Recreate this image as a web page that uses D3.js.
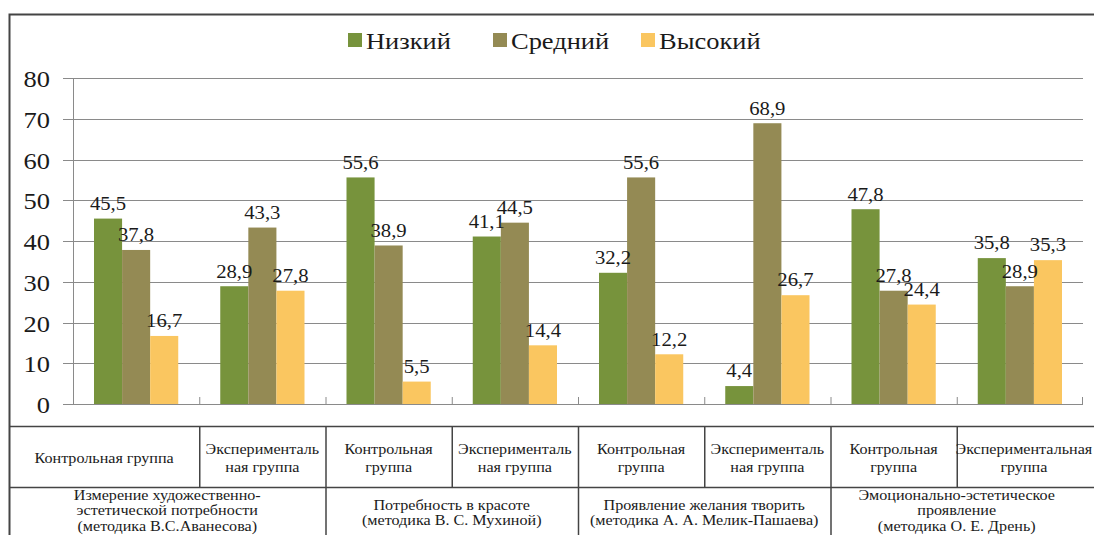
<!DOCTYPE html>
<html>
<head>
<meta charset="utf-8">
<script src="https://cdn.jsdelivr.net/npm/d3@7"></script>
<style>
  svg text { font-family: "Liberation Serif", serif !important; }
</style>
</head>
<body style="margin:0">
<svg id="chart" width="1094" height="535" font-family="Liberation Serif"></svg>
<script>
// values
var series = ["Низкий", "Средний", "Высокий"];
var colors = ["#77933c", "#948a54", "#fac660"];
var lowVals = [45.5, 28.9, 55.6, 41.1, 32.2, 4.4, 47.8, 35.8];
var midVals = [37.8, 43.3, 38.9, 44.5, 55.6, 68.9, 27.8, 28.9];
var highVals = [16.7, 27.8, 5.5, 14.4, 12.2, 26.7, 24.4, 35.3];
var yTicks = [0, 10, 20, 30, 40, 50, 60, 70, 80];

// table under the chart
var groupLabels = [
	["Контрольная  группа"],
	["Эксперименталь", "ная  группа"],
	["Контрольная", "группа"],
	["Эксперименталь", "ная  группа"],
	["Контрольная", "группа"],
	["Эксперименталь", "ная  группа"],
	["Контрольная", "группа"],
	["Экспериментальная", "группа"]
];
var methodLabels = [
	["Измерение художественно-", "эстетической потребности", "(методика В.С.Аванесова)"],
	["Потребность  в красоте", "(методика  В.  С. Мухиной)"],
	["Проявление  желания творить", "(методика А. А. Мелик-Пашаева)"],
	["Эмоционально-эстетическое", "проявление", "(методика О. Е. Дрень)"]
];

var allVals = [lowVals, midVals, highVals];
var sx = 1.15; // the picture is a bit stretched sideways

var svg = d3.select("#chart");

// adds a text, then widens it like the source picture
function stretchText(g, x, y, str, size, anchor) {
	var t = g.append("text")
		.attr("x", x)
		.attr("y", y)
		.attr("dy", "0.35em")
		.attr("text-anchor", anchor || "middle")
		.attr("font-family", "Liberation Serif")
		.style("font-family", "Liberation Serif", "important")
		.attr("font-size", size)
		.attr("fill", "#1a1a1a")
		.text(str);
	var w = t.node().getComputedTextLength();
	t.attr("textLength", w * sx).attr("lengthAdjust", "spacingAndGlyphs");
	return t;
}

var plotL = 73, plotR = 1083, plotT = 78, plotB = 404;

var x0 = d3.scaleBand()
	.domain(d3.range(lowVals.length))
	.range([plotL, plotR]);
var x1 = d3.scaleBand()
	.domain(d3.range(series.length))
	.range([21, x0.bandwidth() - 21]);
var y = d3.scaleLinear()
	.domain([0, 80])
	.range([plotB, plotT]);

// outer frame
svg.append("rect")
	.attr("x", 9.5).attr("y", 14.5)
	.attr("width", 1100).attr("height", 600)
	.attr("fill", "none")
	.attr("stroke", "#444")
	.attr("stroke-width", 2);

// gridlines
svg.append("g")
	.selectAll("line")
	.data(yTicks)
	.join("line")
	.attr("x1", plotL - 10).attr("x2", plotR)
	.attr("y1", function(d) { return Math.round(y(d)) + 0.5; })
	.attr("y2", function(d) { return Math.round(y(d)) + 0.5; })
	.attr("stroke", "#8a8a8a")
	.attr("stroke-width", 1);

// y axis line
svg.append("line")
	.attr("x1", plotL + 0.5).attr("x2", plotL + 0.5)
	.attr("y1", y(80)).attr("y2", y(0))
	.attr("stroke", "#8a8a8a");

// inner tick marks between the groups
svg.append("g")
	.selectAll("line")
	.data(d3.range(1, lowVals.length + 1))
	.join("line")
	.attr("x1", function(i) { return i < lowVals.length ? x0(i) + 0.5 : plotR - 0.5; })
	.attr("x2", function(i) { return i < lowVals.length ? x0(i) + 0.5 : plotR - 0.5; })
	.attr("y1", y(0) - 7).attr("y2", y(0))
	.attr("stroke", "#8a8a8a");

// y tick labels
var yLab = svg.append("g");
yTicks.forEach(function(t) {
	stretchText(yLab, 50, y(t) + 1, t, 23, "end");
});

// bars
var barG = svg.append("g");
allVals.forEach(function(vals, s) {
	barG.append("g")
		.selectAll("rect")
		.data(vals)
		.join("rect")
		.attr("x", function(d, i) { return x0(i) + x1(s); })
		.attr("width", x1.bandwidth())
		.attr("y", function(d) { return y(d); })
		.attr("height", function(d) { return y(0) - y(d); })
		.attr("fill", colors[s]);
});

// value labels
var valG = svg.append("g");
allVals.forEach(function(vals, s) {
	vals.forEach(function(d, i) {
		stretchText(valG, x0(i) + x1(s) + x1.bandwidth() / 2, y(d) - 15,
			d3.format(".1f")(d).replace(".", ","), 18);
	});
});

// legend
var legendX = [348, 493, 641];
var legG = svg.append("g");
series.forEach(function(name, s) {
	legG.append("rect")
		.attr("x", legendX[s]).attr("y", 33)
		.attr("width", 14).attr("height", 14)
		.attr("fill", colors[s]);
	stretchText(legG, legendX[s] + 18, 41, name, 23, "start");
});

// table
var tTop = 426, tMid = 487, tBottom = 560;
var tab = svg.append("g");
var lineCol = "#444";
tab.append("line").attr("x1", 9).attr("x2", 1100).attr("y1", tTop + 0.5).attr("y2", tTop + 0.5).attr("stroke", lineCol).attr("stroke-width", 1.5);
tab.append("line").attr("x1", 9).attr("x2", 1100).attr("y1", tMid + 0.5).attr("y2", tMid + 0.5).attr("stroke", lineCol).attr("stroke-width", 1.5);

// column edges of the first row follow the chart groups
d3.range(1, groupLabels.length).forEach(function(i) {
	var xx = x0(i) + 0.5;
	tab.append("line")
		.attr("x1", xx).attr("x2", xx)
		.attr("y1", tTop).attr("y2", i % 2 === 0 ? tBottom : tMid)
		.attr("stroke", lineCol).attr("stroke-width", 1.5);
});

groupLabels.forEach(function(lines, i) {
	var x0c = i === 0 ? 9 : x0(i);
	var x1c = i === groupLabels.length - 1 ? plotR + 8 : x0(i) + x0.bandwidth();
	var cx = (x0c + x1c) / 2;
	var cy = (tTop + tMid) / 2 + 2;
	var start = cy - (lines.length - 1) * 18 / 2;
	lines.forEach(function(l, k) {
		stretchText(tab, cx, start + k * 18, l, 14);
	});
});

methodLabels.forEach(function(lines, j) {
	var a = j === 0 ? 9 : x0(2 * j);
	var b = j === methodLabels.length - 1 ? plotR : x0(2 * j + 1) + x0.bandwidth();
	var cx = (a + b) / 2;
	var start = lines.length === 3 ? 495 : 505;
	lines.forEach(function(l, k) {
		stretchText(tab, cx, start + k * 15.5, l, 14);
	});
});
</script>
</body>
</html>
